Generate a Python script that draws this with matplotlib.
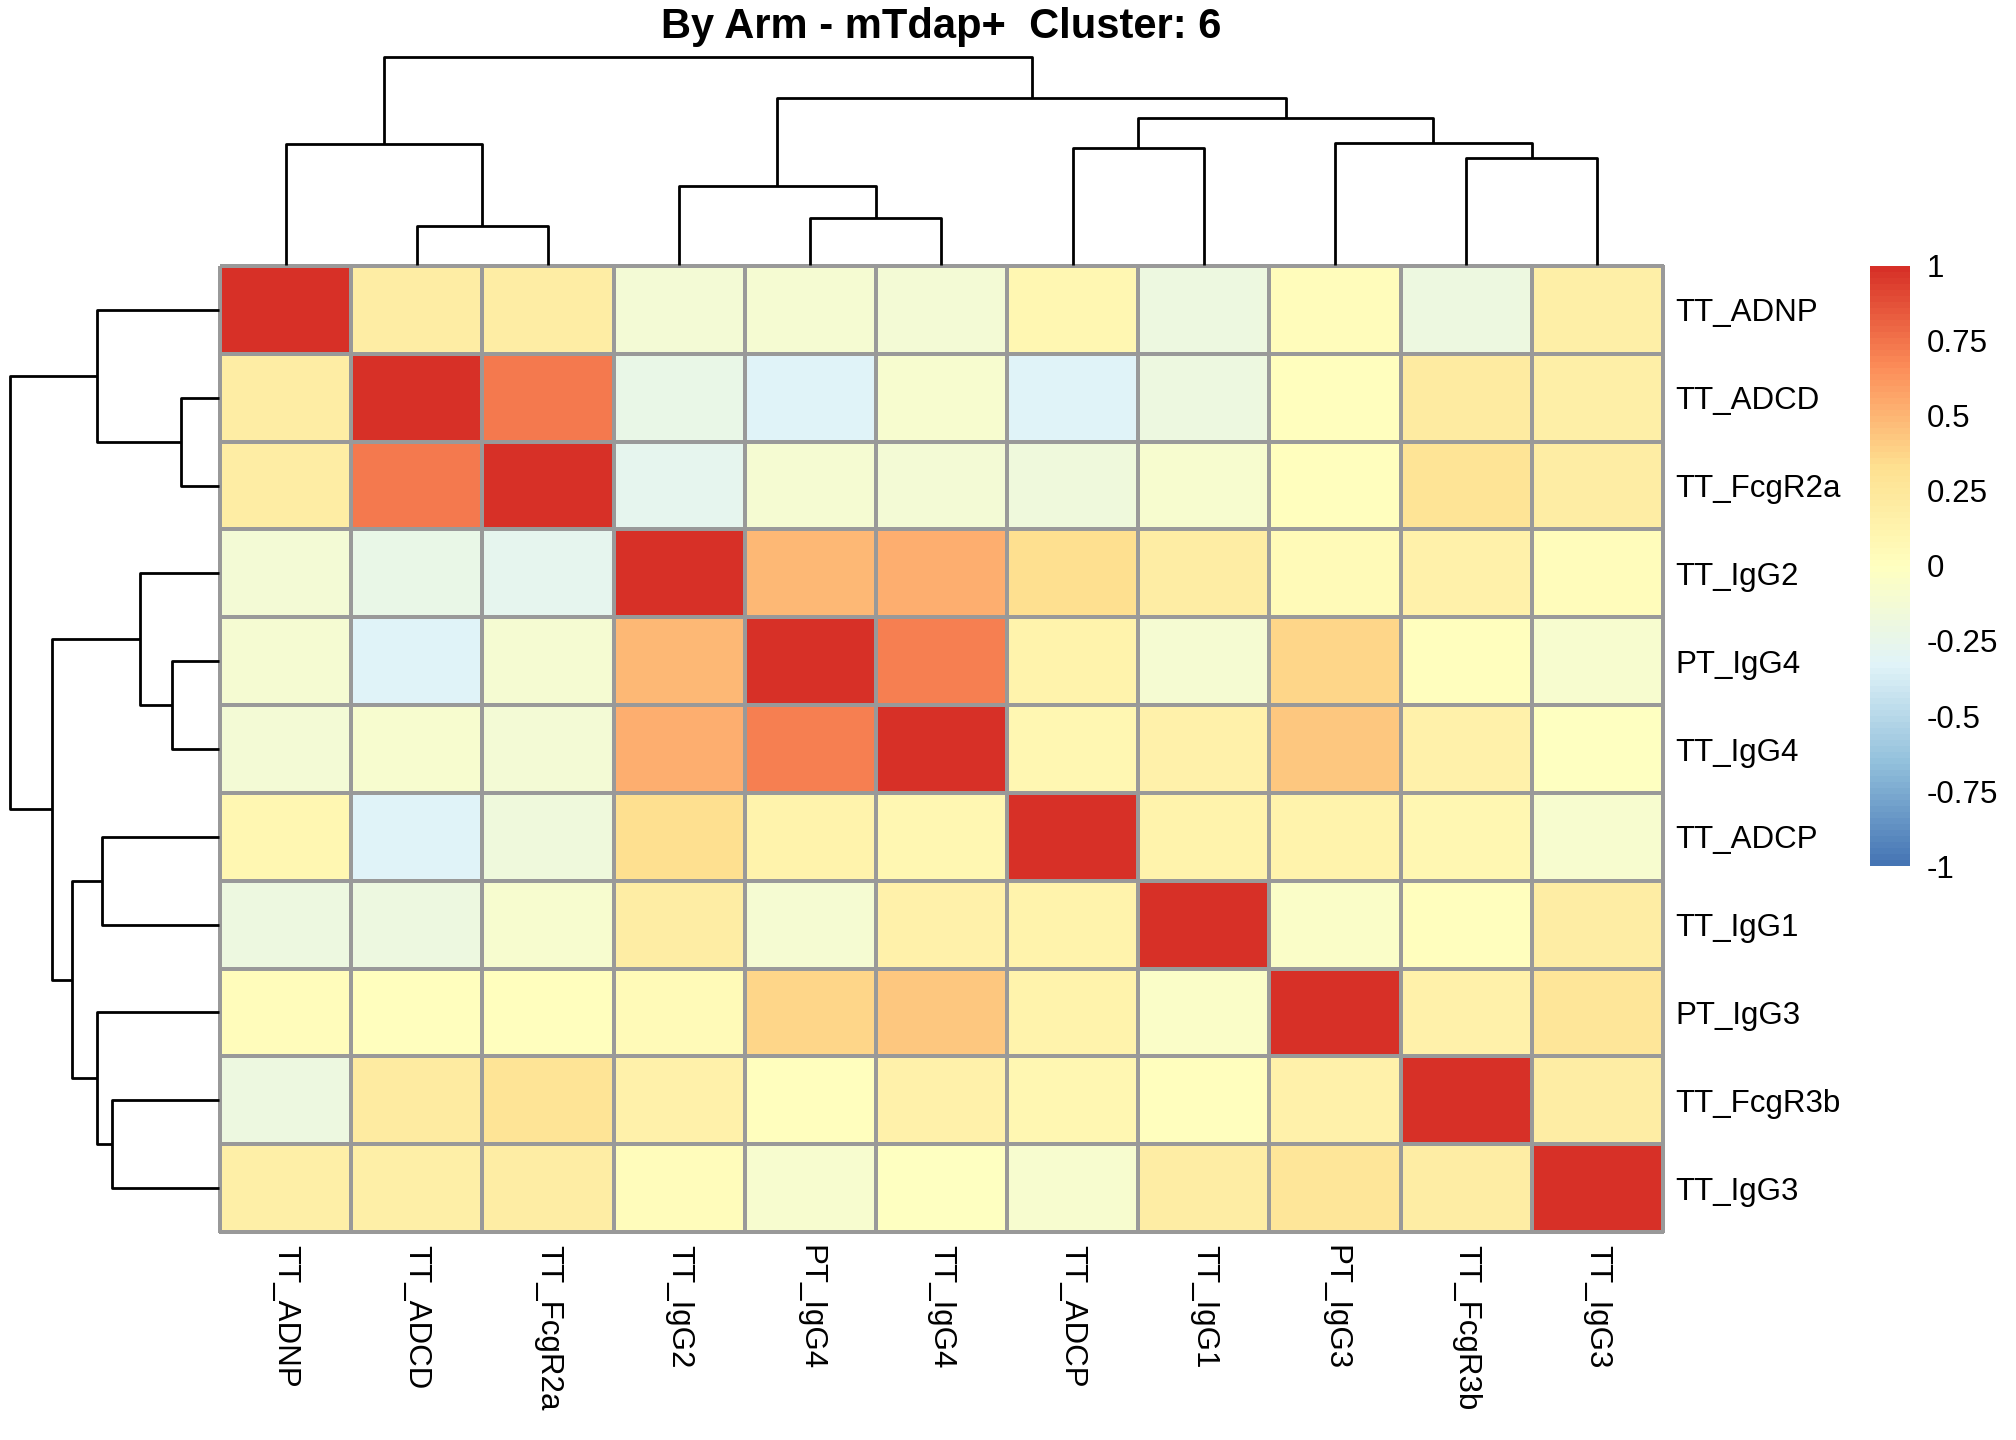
import numpy as np
import matplotlib
matplotlib.use("Agg")
import matplotlib.pyplot as plt
from matplotlib.colors import LinearSegmentedColormap
from matplotlib.cm import ScalarMappable
from matplotlib.colors import Normalize

plt.rcParams['font.family'] = ['Liberation Sans', 'DejaVu Sans']

title = "By Arm - mTdap+  Cluster: 6"

labels = ["TT_ADNP", "TT_ADCD", "TT_FcgR2a", "TT_IgG2", "PT_IgG4", "TT_IgG4",
          "TT_ADCP", "TT_IgG1", "PT_IgG3", "TT_FcgR3b", "TT_IgG3"]

# correlation matrix, already in the clustered order
corr = np.array([
    [1.00, 0.18, 0.18, -0.13, -0.11, -0.14, 0.08, -0.19, 0.03, -0.19, 0.17],
    [0.18, 1.00, 0.72, -0.24, -0.33, -0.10, -0.33, -0.19, 0.01, 0.21, 0.17],
    [0.18, 0.72, 1.00, -0.28, -0.11, -0.14, -0.18, -0.10, 0.01, 0.29, 0.18],
    [-0.13, -0.24, -0.28, 1.00, 0.48, 0.52, 0.33, 0.19, 0.04, 0.16, 0.03],
    [-0.11, -0.33, -0.11, 0.48, 1.00, 0.70, 0.12, -0.11, 0.36, 0.01, -0.10],
    [-0.14, -0.10, -0.14, 0.52, 0.70, 1.00, 0.09, 0.15, 0.43, 0.14, -0.02],
    [0.08, -0.33, -0.18, 0.33, 0.12, 0.09, 1.00, 0.13, 0.12, 0.09, -0.09],
    [-0.19, -0.19, -0.10, 0.19, -0.11, 0.15, 0.13, 1.00, -0.06, 0.01, 0.18],
    [0.03, 0.01, 0.01, 0.04, 0.36, 0.43, 0.12, -0.06, 1.00, 0.14, 0.27],
    [-0.19, 0.21, 0.29, 0.16, 0.01, 0.14, 0.09, 0.01, 0.14, 1.00, 0.19],
    [0.17, 0.17, 0.18, 0.03, -0.10, -0.02, -0.09, 0.18, 0.27, 0.19, 1.00],
])

# hclust merges: (left, right, height); leaves 0..10, new nodes from 11 up
merges = [
    (1, 2, 0.185),
    (0, 11, 0.583),
    (4, 5, 0.226),
    (3, 13, 0.379),
    (6, 7, 0.562),
    (9, 10, 0.514),
    (8, 16, 0.586),
    (15, 17, 0.705),
    (14, 18, 0.800),
    (12, 19, 1.000),
]

cbar_ticks = [-1, -0.75, -0.5, -0.25, 0, 0.25, 0.5, 0.75, 1]
cbar_labels = ["-1", "-0.75", "-0.5", "-0.25", "0", "0.25", "0.5", "0.75", "1"]

n = len(labels)
pal = ["#4575B4", "#91BFDB", "#E0F3F8", "#FFFFBF", "#FEE090", "#FC8D59", "#D73027"]
cmap = LinearSegmentedColormap.from_list("rdylbu_r", pal, N=100)


def draw_tree(ax, left_side=False):
    pos = {i: i + 0.5 for i in range(n)}
    hgt = {i: 0.0 for i in range(n)}
    for k, (a, b, h) in enumerate(merges):
        xs = [pos[a], pos[a], pos[b], pos[b]]
        ys = [hgt[a], h, h, hgt[b]]
        if left_side:
            ax.plot(ys, xs, color='black', lw=2.0, clip_on=False,
                    solid_capstyle='butt')
        else:
            ax.plot(xs, ys, color='black', lw=2.0, clip_on=False,
                    solid_capstyle='butt')
        pos[n + k] = (pos[a] + pos[b]) / 2
        hgt[n + k] = h
    ax.axis('off')


fig = plt.figure(figsize=(20.16, 14.4), dpi=100)

# heatmap
hx0, hx1 = 0.1091, 0.8249
hy0, hy1 = 0.1444, 0.8153
ax = fig.add_axes([hx0, hy0, hx1 - hx0, hy1 - hy0])
mesh = ax.pcolormesh(corr, cmap=cmap, vmin=-1, vmax=1,
                     edgecolors='#999999', linewidth=1.5)
mesh.set_clip_on(False)
ax.set_xlim(0, n)
ax.set_ylim(n, 0)
for s in ax.spines.values():
    s.set_visible(False)
ax.set_xticks(np.arange(n) + 0.5)
ax.set_xticklabels(labels, rotation=270, ha='center', va='top', fontsize=22.5)
ax.set_yticks(np.arange(n) + 0.5)
ax.set_yticklabels(labels, fontsize=22.5)
ax.tick_params(axis='y', left=False, labelleft=False, right=False,
               labelright=True, length=0, pad=9)
ax.tick_params(axis='x', length=0, pad=9)

# column dendrogram
axc = fig.add_axes([hx0, 0.816, hx1 - hx0, 0.9606 - 0.816])
draw_tree(axc)
axc.set_xlim(0, n)
axc.set_ylim(0, 1.0)

# row dendrogram
axr = fig.add_axes([0.005, hy0, 0.1088 - 0.005, hy1 - hy0])
draw_tree(axr, left_side=True)
axr.set_xlim(1.0, 0)
axr.set_ylim(n, 0)

# colour legend
cax = fig.add_axes([0.9276, 0.3986, 0.0198, 0.4167])
sm = ScalarMappable(norm=Normalize(-1, 1), cmap=cmap)
cb = fig.colorbar(sm, cax=cax, ticks=cbar_ticks)
cb.set_ticklabels(cbar_labels)
cb.outline.set_visible(False)
cb.ax.tick_params(length=0, labelsize=22.5, pad=12)

fig.text((hx0 + hx1) / 2, 0.981, title, ha='center', va='center',
         fontsize=30, fontweight='bold')

fig.savefig("out.png", dpi=100)
